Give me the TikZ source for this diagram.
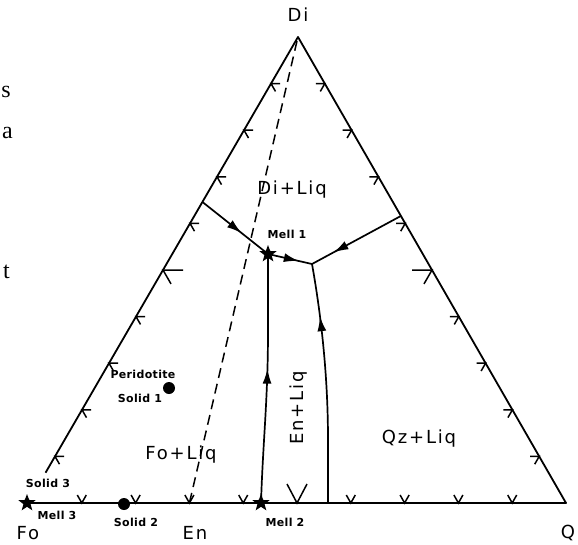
\documentclass[tikz,border=0pt]{standalone}
\usepackage{fontspec}
\setmainfont{DejaVu Sans}
\newfontfamily\lblfont[LetterSpace=10]{DejaVu Sans}
\newfontfamily\smlfont[LetterSpace=3]{DejaVu Sans}
\newfontfamily\fragfont{Liberation Serif}
\usetikzlibrary{shapes.geometric,arrows.meta,decorations.markings,calc}
\tikzset{
  edgeline/.style={line width=1.8pt, line join=round},
  bline/.style={line width=1.7pt},
  tickmark/.style={line width=1.5pt},
  dashline/.style={line width=1.5pt, dash pattern=on 10pt off 6pt},
  midarrow/.style={postaction={decorate}, decoration={markings,
     mark=at position #1 with {\arrow{Latex[length=15pt,width=9pt]}}}},
  starsh/.style={star, star points=5, star point ratio=2.4, fill=black, draw=none,
     minimum size=18pt, inner sep=0pt},
  dotsh/.style={circle, fill=black, minimum size=12pt, inner sep=0pt},
  biglbl/.style={inner sep=0pt, font=\lblfont\fontsize{18}{20}\selectfont},
  smllbl/.style={inner sep=0pt, font=\smlfont\bfseries\fontsize{11}{12}\selectfont},
  fraglbl/.style={inner sep=0pt, anchor=east, font=\fragfont\fontsize{24}{26}\selectfont},
}
\begin{document}
\begin{tikzpicture}[x=1pt,y=-1pt]
\useasboundingbox (0,0) rectangle (578,544);
% corners
\coordinate (Di) at (298,37);
\coordinate (Fo) at (28,503);
\coordinate (Q) at (566,503);
\coordinate (LE) at ($(Di)!0.935!(Fo)$);
\coordinate (P1) at ($(Di)!0.354!(Fo)$);
\coordinate (P2) at ($(Di)!0.384!(Q)$);
\coordinate (J) at (312,264);
\coordinate (En) at ($(Fo)!0.3!(Q)$);
\coordinate (B2) at (328,503);
\coordinate (DashTop) at (297,41);
% triangle
\draw[edgeline] (LE) -- (Di) -- (Q) -- (Fo);
% ticks left edge
\foreach \t in {0.1,0.2,0.3,0.4,0.6,0.7,0.8,0.9}
  \draw[tickmark] ($(Di)!\t!(Fo)$) ++(9,0) -- ++(-9,0) -- ++(4.5,7.8);
\draw[tickmark] ($(Di)!0.5!(Fo)$) ++(20,0) -- ++(-20,0) -- ++(8,13.9);
% ticks right edge
\foreach \t in {0.1,0.2,0.3,0.4,0.6,0.7,0.8,0.9}
  \draw[tickmark] ($(Di)!\t!(Q)$) ++(-9,0) -- ++(9,0) -- ++(-4.5,7.8);
\draw[tickmark] ($(Di)!0.5!(Q)$) ++(-20,0) -- ++(20,0) -- ++(-8,13.9);
% ticks base
\foreach \t in {0.1,0.2,0.3,0.4,0.6,0.7,0.8,0.9}
  \draw[tickmark] ($(Fo)!\t!(Q)$) ++(-4.5,-8) -- ++(4.5,8) -- ++(4.5,-8);
\draw[tickmark] ($(Fo)!0.5!(Q)$) ++(-10,-19) -- ++(10,19) -- ++(10,-19);
% dashed join Di - En
\draw[dashline] (DashTop) -- (En);
% stars and dots
\node[starsh] (M1) at (268,254) {};
\node[starsh] (M2) at (261,503) {};
\node[starsh] (M3) at (27,503) {};
\node[dotsh] (S1) at (169,388) {};
\node[dotsh] (S2) at (124,504) {};
% cotectic / boundary lines
\draw[bline, midarrow=0.6] (P1) -- (M1.center);
\draw[bline, midarrow=0.7] (M1.center) -- (J);
\draw[bline, midarrow=0.76] (P2) -- (J);
\draw[bline, midarrow=0.54] (M2.center) .. controls (263,440) and (268,400) .. (268,330) -- (M1.center);
\draw[bline, midarrow=0.78] (B2) -- (328,440) .. controls (328,380) and (322,320) .. (J);
% corner labels
\node[biglbl] (lDi) at (298,15) {Di};
\node[biglbl] (lFo) at (28,533) {Fo};
\node[biglbl] (lEn) at (195,533) {En};
\node[biglbl] (lQ) at (568,533) {Q};
% field labels
\node[biglbl] (fDi) at (292,190) {Di+Liq};
\node[biglbl] (fFo) at (181,455) {Fo+Liq};
\node[biglbl, rotate=90] (fEn) at (299,408) {En+Liq};
\node[biglbl] (fQz) at (419,439) {Qz+Liq};
% small labels
\node[smllbl] (tM1) at (287,234) {Mell 1};
\node[smllbl] (tM2) at (285,522) {Mell 2};
\node[smllbl] (tM3) at (57,515) {Mell 3};
\node[smllbl] (tP) at (143,374) {Peridotite};
\node[smllbl] (tS1) at (140,398) {Solid 1};
\node[smllbl] (tS2) at (136,522) {Solid 2};
\node[smllbl] (tS3) at (48,483) {Solid 3};
% cut-off text at left margin
\node[fraglbl] (fr1) at (11,92) {s};
\node[fraglbl] (fr2) at (13,133) {a};
\node[fraglbl] (fr3) at (10,272) {t};
\end{tikzpicture}
\end{document}
